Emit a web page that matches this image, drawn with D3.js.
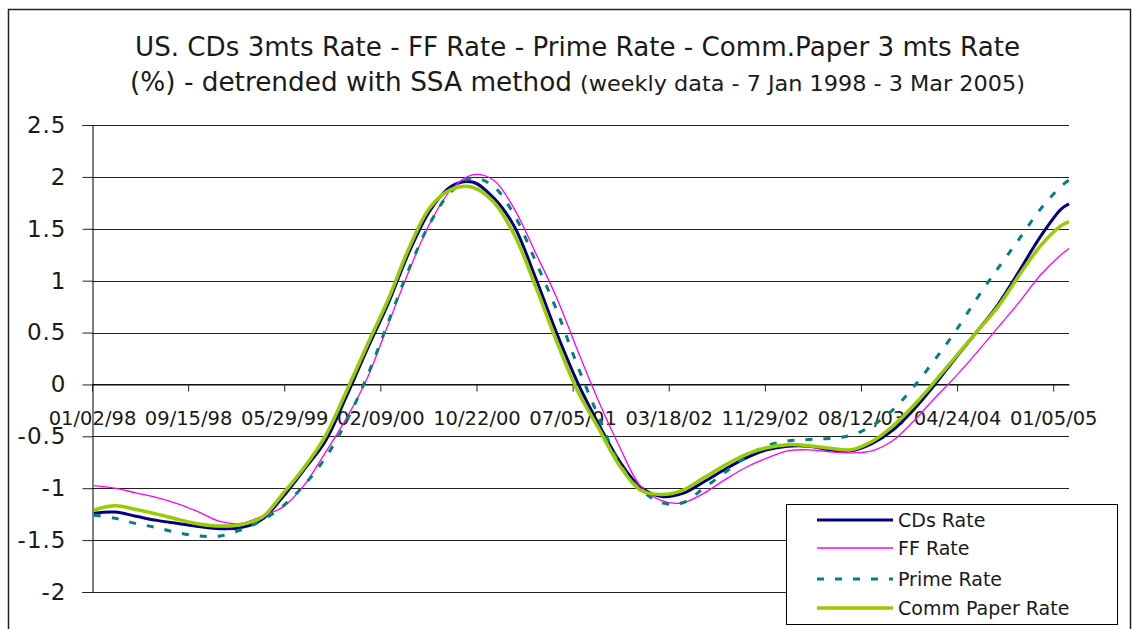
<!DOCTYPE html>
<html>
<head>
<meta charset="utf-8">
<script src="https://cdn.jsdelivr.net/npm/d3@7"></script>
<style>
  body { margin: 0; background: #fff; }
  svg { display: block; }
  text { font-family: "DejaVu Sans", sans-serif; fill: #1a1a1a; }
</style>
</head>
<body>
<svg id="chart" width="1133" height="629"></svg>
<script>
// Sample dates (every 8 weeks of the weekly series)
const sampleDates = [
  "1998-01-07","1998-03-04","1998-04-29","1998-06-24","1998-08-19","1998-10-14","1998-12-09",
  "1999-02-03","1999-03-31","1999-05-26","1999-07-21","1999-09-15","1999-11-10",
  "2000-01-05","2000-03-01","2000-04-26","2000-06-21","2000-08-16","2000-10-11","2000-12-06",
  "2001-01-31","2001-03-28","2001-05-23","2001-07-18","2001-09-12","2001-11-07",
  "2002-01-02","2002-02-27","2002-04-24","2002-06-19","2002-08-14","2002-10-09","2002-12-04",
  "2003-01-29","2003-03-26","2003-05-21","2003-07-16","2003-09-10","2003-11-05","2003-12-31",
  "2004-02-25","2004-04-21","2004-06-16","2004-08-11","2004-10-06","2004-12-01",
  "2005-01-26","2005-02-16"
];

// Detrended rates (%)
const cdsRate = [
  -1.24,-1.23,-1.27,-1.31,-1.34,-1.37,-1.39,-1.38,-1.30,-1.08,-0.82,-0.55,-0.12,
  0.34,0.78,1.28,1.68,1.91,1.95,1.80,1.52,1.03,0.50,0.02,-0.38,-0.74,
  -0.99,-1.08,-1.05,-0.94,-0.82,-0.71,-0.63,-0.595,-0.595,-0.63,-0.64,-0.57,-0.44,-0.24,
  0.0,0.26,0.51,0.77,1.09,1.42,1.69,1.74
];
const ffRate = [
  -0.975,-1.0,-1.045,-1.09,-1.15,-1.23,-1.32,-1.34,-1.27,-1.18,-0.97,-0.66,-0.33,
  0.06,0.58,1.10,1.56,1.88,2.02,1.97,1.69,1.27,0.84,0.33,-0.16,-0.60,
  -0.98,-1.12,-1.14,-1.05,-0.92,-0.80,-0.71,-0.64,-0.63,-0.65,-0.66,-0.64,-0.54,-0.35,
  -0.13,0.08,0.31,0.55,0.79,1.05,1.25,1.31
];
const primeRate = [
  -1.26,-1.29,-1.34,-1.38,-1.43,-1.46,-1.46,-1.40,-1.31,-1.17,-0.97,-0.71,-0.36,
  0.08,0.60,1.12,1.56,1.86,1.99,1.91,1.63,1.19,0.72,0.18,-0.31,-0.76,
  -1.01,-1.14,-1.14,-1.00,-0.85,-0.70,-0.59,-0.545,-0.53,-0.52,-0.49,-0.40,-0.245,-0.02,
  0.24,0.52,0.83,1.12,1.40,1.685,1.91,1.97
];
const commPaperRate = [
  -1.21,-1.17,-1.205,-1.25,-1.30,-1.345,-1.365,-1.35,-1.28,-1.05,-0.80,-0.50,-0.07,
  0.38,0.82,1.32,1.71,1.88,1.90,1.76,1.44,0.95,0.42,-0.06,-0.42,-0.78,
  -1.02,-1.06,-1.02,-0.90,-0.78,-0.675,-0.61,-0.58,-0.59,-0.615,-0.63,-0.55,-0.40,-0.20,
  0.03,0.27,0.51,0.75,1.05,1.33,1.53,1.57
];

const seriesNames = ["CDs Rate", "FF Rate", "Prime Rate", "Comm Paper Rate"];
const xTickLabels = ["01/02/98","09/15/98","05/29/99","02/09/00","10/22/00","07/05/01",
                     "03/18/02","11/29/02","08/12/03","04/24/04","01/05/05"];
const yTickValues = [2.5, 2, 1.5, 1, 0.5, 0, -0.5, -1, -1.5, -2];

const svg = d3.select("#chart");
const parseISO = d3.timeParse("%Y-%m-%d");
const parseTick = d3.timeParse("%m/%d/%y");
const dates = sampleDates.map(parseISO);
const tickDates = xTickLabels.map(parseTick);

const plot = { left: 92, right: 1069, top: 125, bottom: 592 };

const x = d3.scaleTime()
  .domain([tickDates[0], dates[dates.length - 1]])
  .range([plot.left, plot.right]);
const y = d3.scaleLinear()
  .domain([-2, 2.5])
  .range([plot.bottom, plot.top]);

// Outer frame
svg.append("rect")
  .attr("x", 8.5).attr("y", 9.5)
  .attr("width", 1122).attr("height", 640)
  .attr("fill", "none").attr("stroke", "#222").attr("stroke-width", 1.5);

// Title
svg.append("text")
  .attr("x", 135).attr("y", 56)
  .attr("textLength", 885).attr("lengthAdjust", "spacingAndGlyphs")
  .style("font-size", "26px")
  .text("US. CDs 3mts Rate - FF Rate - Prime Rate - Comm.Paper 3 mts Rate");
svg.append("text")
  .attr("x", 130).attr("y", 91)
  .attr("textLength", 442).attr("lengthAdjust", "spacingAndGlyphs")
  .style("font-size", "26px")
  .text("(%) - detrended with SSA method");
svg.append("text")
  .attr("x", 580).attr("y", 91)
  .attr("textLength", 445).attr("lengthAdjust", "spacingAndGlyphs")
  .style("font-size", "21px")
  .text("(weekly data - 7 Jan 1998 - 3 Mar 2005)");

// Horizontal gridlines
svg.append("g")
  .selectAll("line")
  .data(yTickValues)
  .join("line")
  .attr("x1", plot.left).attr("x2", plot.right)
  .attr("y1", d => Math.round(y(d)) + 0.5).attr("y2", d => Math.round(y(d)) + 0.5)
  .attr("stroke", "#222").attr("stroke-width", 1);

// Y axis
const yAxis = svg.append("g")
  .attr("transform", `translate(${plot.left + 0.5},0)`)
  .call(d3.axisLeft(y).tickValues(yTickValues).tickSize(10).tickPadding(16)
    .tickFormat(d => String(d)));
yAxis.select(".domain").attr("stroke", "#000");
yAxis.selectAll(".tick line").attr("stroke", "#222");
yAxis.selectAll("text")
  .style("font-family", "\"DejaVu Sans\", sans-serif")
  .style("font-size", "23px").style("letter-spacing", "1px").attr("fill", "#1a1a1a");

// X axis along the zero line
const xAxis = svg.append("g")
  .attr("transform", `translate(0,${Math.round(y(0)) + 0.5})`)
  .call(d3.axisBottom(x).tickValues(tickDates).tickSize(7).tickSizeOuter(0).tickPadding(20)
    .tickFormat(d3.timeFormat("%m/%d/%y")));
xAxis.select(".domain").attr("stroke", "#000");
xAxis.selectAll(".tick line").attr("stroke", "#222");
xAxis.selectAll("text")
  .style("font-family", "\"DejaVu Sans\", sans-serif")
  .style("font-size", "19.5px").attr("fill", "#333");

// Series lines
const seriesValues = [cdsRate, ffRate, primeRate, commPaperRate];
const styles = [
  { color: "#000080", width: 3, dash: null },
  { color: "#FF00FF", width: 1.3, dash: null },
  { color: "#008080", width: 3, dash: "7,11" },
  { color: "#99CC00", width: 3.5, dash: null }
];

const line = d3.line()
  .x(d => x(d[0]))
  .y(d => y(d[1]))
  .curve(d3.curveCatmullRom.alpha(0.5));

seriesValues.forEach((vals, i) => {
  svg.append("path")
    .datum(dates.map((dt, k) => [dt, vals[k]]))
    .attr("d", line)
    .attr("fill", "none")
    .attr("stroke", styles[i].color)
    .attr("stroke-width", styles[i].width)
    .attr("stroke-dasharray", styles[i].dash)
    .attr("stroke-linejoin", "round");
});

// Legend
const legend = svg.append("g");
legend.append("rect")
  .attr("x", 786.5).attr("y", 504.5).attr("width", 331).attr("height", 120)
  .attr("fill", "#fff").attr("stroke", "#000").attr("stroke-width", 1);
const rowY = [520, 548, 579, 608];
seriesNames.forEach((name, i) => {
  legend.append("line")
    .attr("x1", 817).attr("x2", 893)
    .attr("y1", rowY[i]).attr("y2", rowY[i])
    .attr("stroke", styles[i].color)
    .attr("stroke-width", styles[i].width)
    .attr("stroke-dasharray", styles[i].dash);
  legend.append("text")
    .attr("x", 898).attr("y", rowY[i]).attr("dy", "0.36em")
    .style("font-size", "19px")
    .text(name);
});
</script>
</body>
</html>
